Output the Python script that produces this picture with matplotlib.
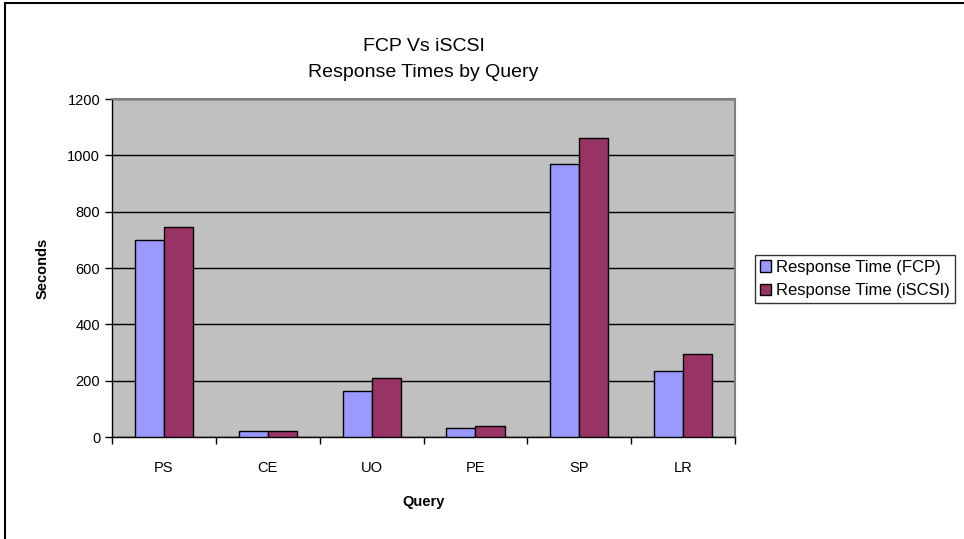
import numpy as np
import matplotlib.pyplot as plt
from matplotlib.patches import Rectangle

plt.rcParams['font.family'] = ['Liberation Sans', 'DejaVu Sans']

queries = ['PS', 'CE', 'UO', 'PE', 'SP', 'LR']
fcp = [700, 20, 165, 32, 970, 233]
iscsi = [745, 20, 210, 38, 1062, 296]

fig = plt.figure(figsize=(9.64, 5.39), dpi=100)
# outer chart frame, runs off the right and bottom edges like the screenshot
fig.patches.append(Rectangle((0.005, -0.05), 1.1, 1.045, transform=fig.transFigure,
                             fill=False, edgecolor='black', linewidth=1.5))

ax = fig.add_axes([0.1162, 0.1892, 0.6463, 0.6271])
ax.set_facecolor('#C0C0C0')

x = np.arange(len(queries))
w = 0.28
ax.bar(x - w / 2, fcp, w, color='#9999FF', edgecolor='black', linewidth=1,
       label='Response Time (FCP)', zorder=3)
ax.bar(x + w / 2, iscsi, w, color='#993366', edgecolor='black', linewidth=1,
       label='Response Time (iSCSI)', zorder=3)

ax.set_xlim(-0.5, len(queries) - 0.5)
ax.set_ylim(0, 1200)
ax.set_yticks(range(0, 1201, 200))
ax.yaxis.grid(True, color='black', linewidth=1, zorder=1)
ax.set_xticks(x)
ax.set_xticklabels(queries, fontsize=10.5)
ax.tick_params(axis='x', length=0, pad=17)
ax.set_xticks(np.arange(-0.5, len(queries)), minor=True)
ax.tick_params(axis='x', which='minor', length=5, direction='out', width=1)
ax.tick_params(axis='y', length=5, direction='out', width=1, labelsize=10.5)

for s in ['top', 'right']:
    ax.spines[s].set_color('#808080')
    ax.spines[s].set_linewidth(1.5)
for s in ['left', 'bottom']:
    ax.spines[s].set_color('black')
    ax.spines[s].set_linewidth(1)

ax.set_ylabel('Seconds', fontsize=10.5, fontweight='bold', labelpad=13)
ax.set_xlabel('Query', fontsize=10.5, fontweight='bold', labelpad=15)
ax.set_title('FCP Vs iSCSI\nResponse Times by Query', fontsize=14, linespacing=1.7, pad=16)

leg = ax.legend(loc='center left', bbox_to_anchor=(1.018, 0.467), fontsize=12,
                frameon=True, fancybox=False, edgecolor='black', handlelength=0.7,
                handleheight=0.7, handletextpad=0.3, borderpad=0.3, labelspacing=0.5)
leg.get_frame().set_linewidth(1)

fig.savefig('out.png', dpi=100)
